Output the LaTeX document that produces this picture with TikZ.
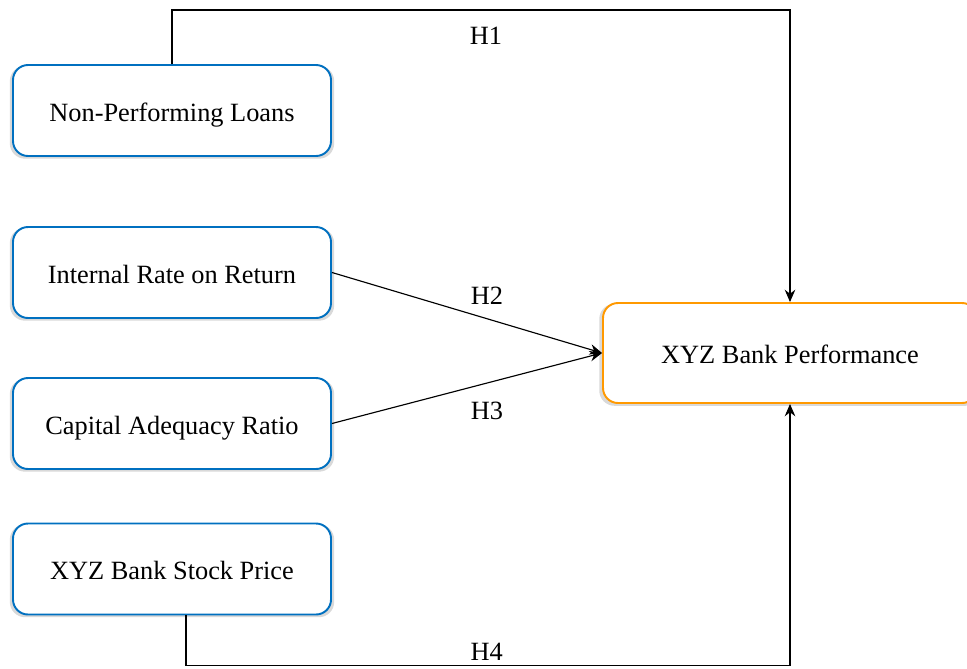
\documentclass[tikz,border=0pt]{standalone}
\usepackage{fontspec}
\setmainfont{Liberation Serif}
\usepackage{tikz}
\usetikzlibrary{arrows.meta,positioning,shadows}

\definecolor{boxblue}{RGB}{0,112,192}
\definecolor{boxorange}{RGB}{255,153,0}

\tikzset{
  varbox/.style={draw=boxblue, line width=1.1pt, fill=white, rounded corners=0.3cm,
    minimum width=6.36cm, minimum height=1.82cm, align=center,
    text height=15pt, text depth=3pt,
    font=\fontsize{15}{18}\selectfont,
    drop shadow={opacity=0.3, shadow xshift=0pt, shadow yshift=-1pt, shadow scale=1.02}},
  outbox/.style={varbox, draw=boxorange, minimum width=7.48cm, minimum height=2cm},
  link/.style={line width=0.65pt, -{Stealth[length=7pt,width=6pt]}},
  hyp/.style={font=\fontsize{15}{18}\selectfont}
}

\begin{document}
\begin{tikzpicture}
  \useasboundingbox (0,0) rectangle (19.34,-13.36);

  % independent variables
  \node[varbox] (npl)   at (3.44,-2.21)  {Non-Performing Loans};
  \node[varbox] (irr)   at (3.44,-5.45)  {Internal Rate on Return};
  \node[varbox] (car)   at (3.44,-8.47)  {Capital Adequacy Ratio};
  \node[varbox] (stock) at (3.44,-11.38) {XYZ Bank Stock Price};

  % dependent variable
  \node[outbox] (perf) at (15.8,-7.06) {XYZ Bank Performance};

  % hypotheses
  \draw[link] (npl.north) -- ++(0,1.08) -| (perf.north)
    node[hyp, pos=0.254, yshift=-0.52cm] (h1) {H1};
  \draw[link] (irr.east) -- (perf.west)
    node[hyp, pos=0.574, yshift=0.45cm] (h2) {H2};
  \draw[link] (car.east) -- (perf.west)
    node[hyp, pos=0.574, yshift=-0.56cm] (h3) {H3};
  \draw[link] ([xshift=0.28cm]stock.south) -- ++(0,-1) -| (perf.south)
    node[hyp, pos=0.249, yshift=0.28cm] (h4) {H4};
\end{tikzpicture}
\end{document}
